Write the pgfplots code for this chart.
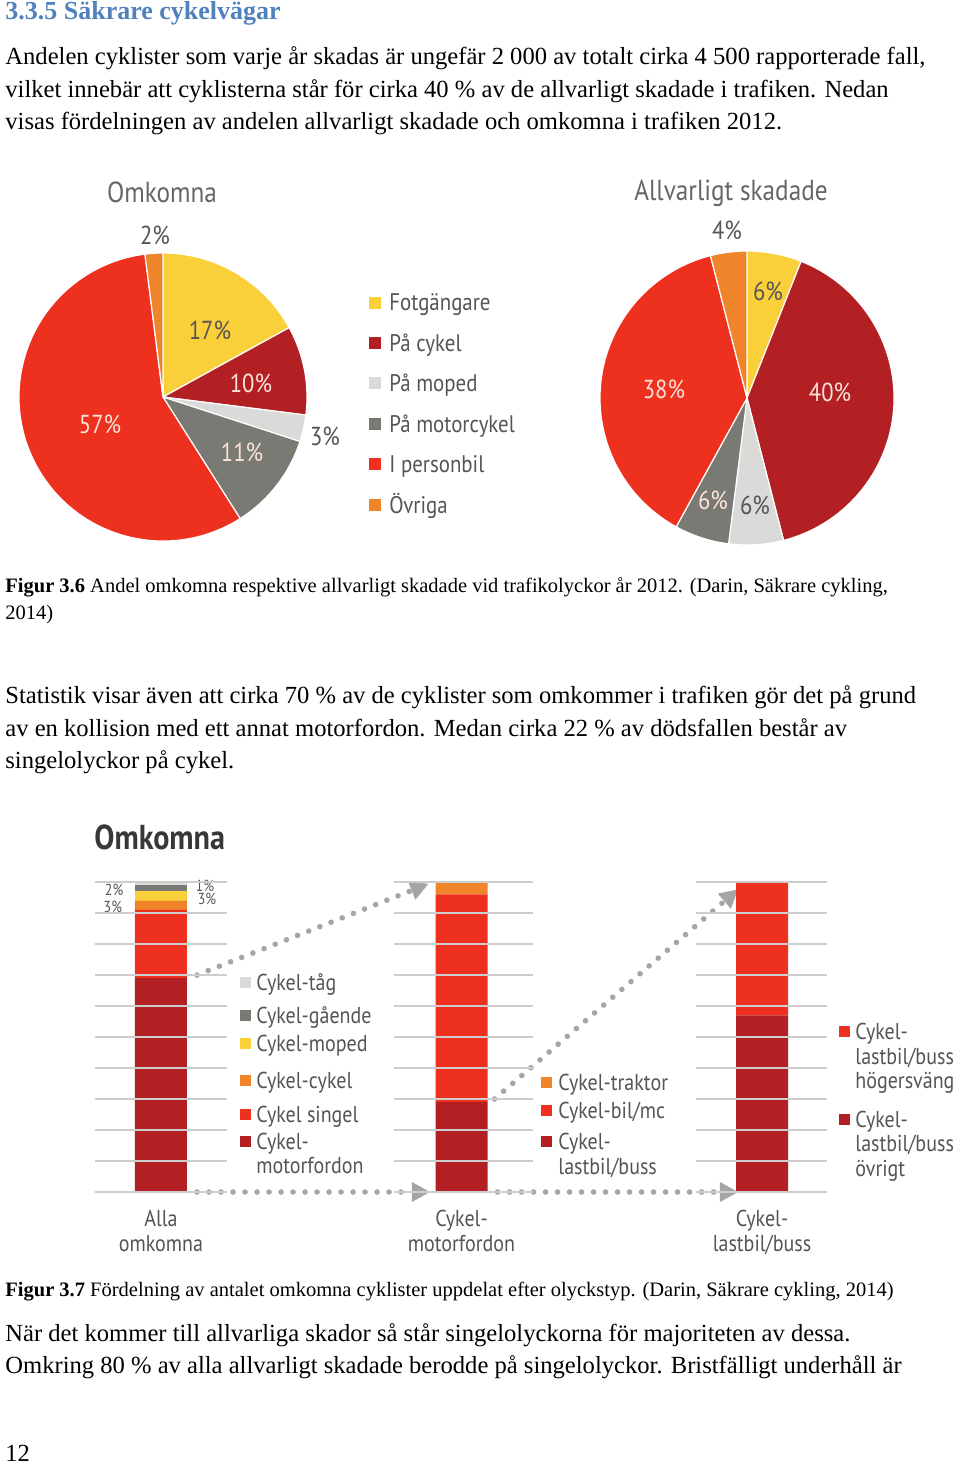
\documentclass[border=0pt]{standalone}
\usepackage{fontspec}
\setmainfont{Liberation Serif}
\newfontfamily\chartfont[FakeStretch=0.87]{PT Sans}
\usepackage{pgfplots}
\usepackage{pgfplotstable}
\pgfplotsset{compat=1.18}
\usetikzlibrary{arrows.meta}

\definecolor{headblue}{RGB}{79,129,189}
\definecolor{cYel}{RGB}{250,208,58}
\definecolor{cDark}{RGB}{178,32,36}
\definecolor{cLG}{RGB}{218,218,216}
\definecolor{cGray}{RGB}{122,122,116}
\definecolor{cRed}{RGB}{238,48,30}
\definecolor{cOrange}{RGB}{240,132,42}
\definecolor{labgray}{RGB}{85,85,85}
\definecolor{lablight}{RGB}{252,226,216}
\definecolor{gridc}{RGB}{205,205,205}
\definecolor{dotgray}{RGB}{165,165,165}

% ---- data ----
\pgfplotstableread{
pct col
17 cYel
10 cDark
3  cLG
11 cGray
57 cRed
2  cOrange
}\pieOmk
\pgfplotstableread{
pct col
6  cYel
40 cDark
6  cLG
6  cGray
38 cRed
4  cOrange
}\pieSkad
% stacked levels (bottom to top): l1 dark red, l2 red, l3 orange, l4 yellow, l5 gray, l6 light gray
\pgfplotstableread{
x l1 l2 l3 l4 l5 l6
0 69 22 3 3 2 1
1 29 67 4 0 0 0
2 57 43 0 0 0 0
}\barOmk

\newcommand\drawpie[2]{%
  \def\cum{0}%
  \pgfplotstablegetrowsof{#1}%
  \pgfmathtruncatemacro\nlast{\pgfplotsretval-1}%
  \pgfplotsforeachungrouped \pI in {0,...,\nlast}{%
    \pgfplotstablegetelem{\pI}{pct}\of#1\let\pPct\pgfplotsretval
    \pgfplotstablegetelem{\pI}{col}\of#1\let\pCol\pgfplotsretval
    \pgfmathsetmacro\pStart{90-3.6*\cum}%
    \pgfmathsetmacro\pEnd{90-3.6*(\cum+\pPct)}%
    \pgfmathsetmacro\pX{cos(\pStart)}%
    \pgfmathsetmacro\pY{sin(\pStart)}%
    \edef\temp{\noexpand\fill[\pCol, draw=white, line width=0.6pt, line join=round] (axis cs:0,0) -- (axis cs:\pX,\pY) arc[start angle=\pStart, end angle=\pEnd, radius=#2] -- cycle;}%
    \temp
    \pgfmathsetmacro\cum{\cum+\pPct}%
  }%
}

\tikzset{
  body/.style={anchor=base west, inner sep=0, font=\fontsize{12.3}{14}\selectfont},
  capt/.style={anchor=base west, inner sep=0, font=\fontsize{10.25}{12}\selectfont},
  leg/.style={anchor=base west, inner sep=0, text=labgray, font=\chartfont\fontsize{12}{13}\selectfont},
  bleg/.style={anchor=base west, inner sep=0, text=labgray, font=\chartfont\fontsize{11.5}{12.5}\selectfont},
  pielbl/.style={inner sep=0, font=\chartfont\fontsize{13}{14}\selectfont},
  barlbl/.style={inner sep=0, text=lablight, font=\chartfont\fontsize{12}{13}\selectfont},
  smlbl/.style={inner sep=0, text=labgray, font=\chartfont\fontsize{8}{8.5}\selectfont},
  ptitle/.style={inner sep=0, text=labgray!90, font=\chartfont\fontsize{14.5}{16}\selectfont},
  dotline/.style={dotgray, line width=2.8pt, line cap=round, dash pattern=on 0pt off 6pt,
     -{Triangle[length=9pt,width=10pt,line width=0pt]}},
}

\begin{document}
\begin{tikzpicture}[x=0.5pt,y=0.5pt]
\path[fill=white, use as bounding box] (0,0) rectangle (960,-1465);

% heading
\node[anchor=base west, inner sep=0, text=headblue, font=\bfseries\fontsize{13}{15}\selectfont] at (5,-20) {3.3.5 Säkrare cykelvägar};

% paragraph 1
\node[body] at (5,-65)  {Andelen cyklister som varje år skadas är ungefär 2 000 av totalt cirka 4 500 rapporterade fall,};
\node[body] at (5,-97.5) {vilket innebär att cyklisterna står för cirka 40 \% av de allvarligt skadade i trafiken. Nedan};
\node[body] at (5,-130) {visas fördelningen av andelen allvarligt skadade och omkomna i trafiken 2012.};

% ---- pie charts ----
\node[ptitle] at (162,-192) {Omkomna};
\node[ptitle] at (731,-193) {Allvarligt skadade};

\begin{axis}[at={(81.5pt,-198.5pt)}, anchor=center, scale only axis, width=144pt, height=144pt,
  xmin=-1, xmax=1, ymin=-1, ymax=1, hide axis, clip=false]
  \drawpie{\pieOmk}{72pt}
  \node[pielbl, text=labgray]  at (axis cs:-0.056,1.125) {2\%};
  \node[pielbl, text=labgray]  at (axis cs:0.326,0.465) {17\%};
  \node[pielbl, text=lablight] at (axis cs:0.611,0.097) {10\%};
  \node[pielbl, text=labgray]  at (axis cs:1.125,-0.271) {3\%};
  \node[pielbl, text=lablight] at (axis cs:0.549,-0.382) {11\%};
  \node[pielbl, text=lablight] at (axis cs:-0.4375,-0.1875) {57\%};
\end{axis}

\begin{axis}[at={(373.5pt,-199pt)}, anchor=center, scale only axis, width=147pt, height=147pt,
  xmin=-1, xmax=1, ymin=-1, ymax=1, hide axis, clip=false]
  \drawpie{\pieSkad}{73.5pt}
  \node[pielbl, text=labgray]  at (axis cs:-0.136,1.143) {4\%};
  \node[pielbl, text=labgray]  at (axis cs:0.143,0.728) {6\%};
  \node[pielbl, text=lablight] at (axis cs:0.565,0.041) {40\%};
  \node[pielbl, text=lablight] at (axis cs:-0.565,0.061) {38\%};
  \node[pielbl, text=lablight] at (axis cs:-0.231,-0.694) {6\%};
  \node[pielbl, text=labgray]  at (axis cs:0.054,-0.728) {6\%};
\end{axis}

% pie legend
\fill[cYel]    (369,-309) rectangle ++(12,12); \node[leg] at (389,-311) {Fotgängare};
\fill[cDark]   (369,-349) rectangle ++(12,12); \node[leg] at (389,-351) {På cykel};
\fill[cLG]     (369,-389) rectangle ++(12,12); \node[leg] at (389,-391) {På moped};
\fill[cGray]   (369,-430) rectangle ++(12,12); \node[leg] at (389,-432) {På motorcykel};
\fill[cRed]    (369,-470) rectangle ++(12,12); \node[leg] at (389,-472) {I personbil};
\fill[cOrange] (369,-511) rectangle ++(12,12); \node[leg] at (389,-513) {Övriga};

% caption 1
\node[capt] at (5,-592) {\textbf{Figur 3.6} Andel omkomna respektive allvarligt skadade vid trafikolyckor år 2012. (Darin, Säkrare cykling,};
\node[capt] at (5,-619) {2014)};

% paragraph 2
\node[body] at (5,-703) {Statistik visar även att cirka 70 \% av de cyklister som omkommer i trafiken gör det på grund};
\node[body] at (5,-736) {av en kollision med ett annat motorfordon. Medan cirka 22 \% av dödsfallen består av};
\node[body] at (5,-768) {singelolyckor på cykel.};

% ---- stacked bar chart ----
\node[anchor=base west, inner sep=0, text=black!78, font=\chartfont\bfseries\fontsize{17.3}{19}\selectfont] at (94,-849) {Omkomna};

\begin{axis}[at={(47.5pt,-596pt)}, anchor=south west, scale only axis, width=366pt, height=155pt,
  xmin=-0.2196, xmax=2.2163, ymin=0, ymax=100, clip=false,
  ybar stacked, bar width=26pt,
  axis y line=none, axis x line*=bottom, x axis line style={draw=none},
  xtick={0,1,2}, major tick length=0pt,
  xticklabels={{Alla\\omkomna},{Cykel-\\motorfordon},{Cykel-\\lastbil/buss}},
  xticklabel style={align=center, text=labgray, yshift=-5.5pt,
     font=\chartfont\fontsize{11.5}{12.5}\selectfont}]
  \pgfplotsinvokeforeach{0,10,...,100}{%
    \draw[gridc, line width=0.6pt] (axis cs:-0.22,#1) -- (axis cs:0.22,#1);
    \draw[gridc, line width=0.6pt] (axis cs:0.774,#1) -- (axis cs:1.237,#1);
    \draw[gridc, line width=0.6pt] (axis cs:1.78,#1) -- (axis cs:2.216,#1);
  }
  \addplot[fill=cDark, draw=none]   table[x=x, y=l1] {\barOmk};
  \addplot[fill=cRed, draw=none]    table[x=x, y=l2] {\barOmk};
  \addplot[fill=cOrange, draw=none] table[x=x, y=l3] {\barOmk};
  \addplot[fill=cYel, draw=none]    table[x=x, y=l4] {\barOmk};
  \addplot[fill=cGray, draw=none]   table[x=x, y=l5] {\barOmk};
  \addplot[fill=cLG, draw=none]     table[x=x, y=l6] {\barOmk};
  % labels
  \node[smlbl] at (axis cs:-0.156,97.4) {2\%};
  \node[smlbl] at (axis cs:-0.160,91.9) {3\%};
  \node[smlbl] at (axis cs:0.146,98.7) {1\%};
  \node[smlbl] at (axis cs:0.153,94.5) {3\%};
  \node[barlbl] at (axis cs:0.003,79.7) {22\%};
  \node[barlbl] at (axis cs:0,34.2) {69\%};
  \node[smlbl]  at (axis cs:1.0,97.8) {4\%};
  \node[barlbl] at (axis cs:1.01,62.3) {68\%};
  \node[barlbl] at (axis cs:1.0,14.2) {29\%};
  \node[barlbl] at (axis cs:2.01,77.1) {43\%};
  \node[barlbl] at (axis cs:2.0,27.7) {57\%};
  % dotted arrows
  \draw[dotline] (axis cs:0.12,70) -- (axis cs:0.89,99.4);
  \draw[dotline] (axis cs:0.12,0) -- (axis cs:0.895,0);
  \draw[dotline] (axis cs:1.11,30) -- (axis cs:1.92,97.6);
  \draw[dotline] (axis cs:1.12,0) -- (axis cs:1.92,0);
\end{axis}

% bar legends
\fill[cLG]     (240,-988) rectangle ++(11,11);  \node[bleg] at (256,-990) {Cykel-tåg};
\fill[cGray]   (240,-1021) rectangle ++(11,11); \node[bleg] at (256,-1023) {Cykel-gående};
\fill[cYel]    (240,-1049) rectangle ++(11,11); \node[bleg] at (256,-1051) {Cykel-moped};
\fill[cOrange] (240,-1086) rectangle ++(11,11); \node[bleg] at (256,-1088) {Cykel-cykel};
\fill[cRed]    (240,-1120) rectangle ++(11,11); \node[bleg] at (256,-1122) {Cykel singel};
\fill[cDark]   (240,-1147) rectangle ++(11,11); \node[bleg] at (256,-1149) {Cykel-};
\node[bleg] at (256,-1173) {motorfordon};

\fill[cOrange] (541,-1088) rectangle ++(11,11); \node[bleg] at (558,-1090) {Cykel-traktor};
\fill[cRed]    (541,-1116) rectangle ++(11,11); \node[bleg] at (558,-1118) {Cykel-bil/mc};
\fill[cDark]   (541,-1147) rectangle ++(11,11); \node[bleg] at (558,-1149) {Cykel-};
\node[bleg] at (558,-1174) {lastbil/buss};

\fill[cRed]    (839,-1037) rectangle ++(11,11); \node[bleg] at (855,-1039) {Cykel-};
\node[bleg] at (855,-1064) {lastbil/buss};
\node[bleg] at (855,-1088) {högersväng};
\fill[cDark]   (839,-1125) rectangle ++(11,11); \node[bleg] at (855,-1127) {Cykel-};
\node[bleg] at (855,-1151) {lastbil/buss};
\node[bleg] at (855,-1176) {övrigt};

% caption 2
\node[capt] at (5,-1296) {\textbf{Figur 3.7} Fördelning av antalet omkomna cyklister uppdelat efter olyckstyp. (Darin, Säkrare cykling, 2014)};

% paragraph 3
\node[body] at (5,-1341) {När det kommer till allvarliga skador så står singelolyckorna för majoriteten av dessa.};
\node[body] at (5,-1373) {Omkring 80 \% av alla allvarligt skadade berodde på singelolyckor. Bristfälligt underhåll är};

% page number
\node[body] at (5,-1461) {12};
\end{tikzpicture}
\end{document}
